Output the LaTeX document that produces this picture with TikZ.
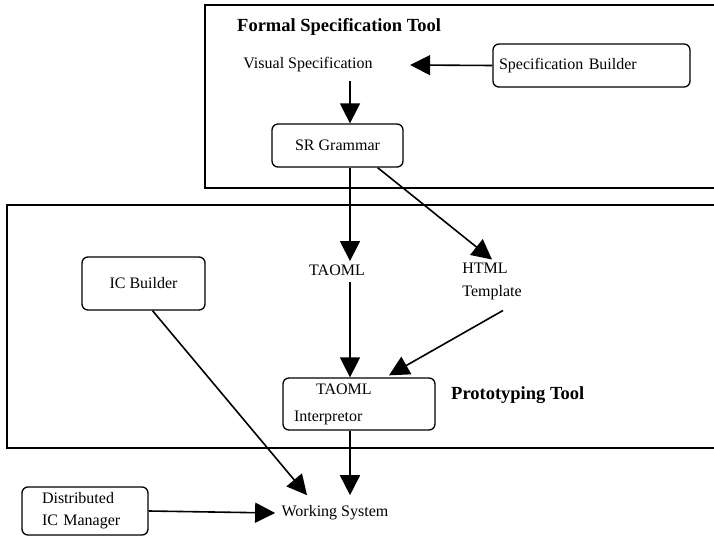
\documentclass[tikz,border=0pt]{standalone}
\usepackage{fontspec}
\setmainfont{Liberation Serif}
\usetikzlibrary{arrows.meta,calc}
\begin{document}
\begin{tikzpicture}[x=1pt,y=-1pt,
  every node/.style={font=\fontsize{16}{19}\selectfont},
  box/.style={draw, rounded corners=6pt, line width=1.3pt, inner xsep=6pt},
  title/.style={font=\fontsize{18.5}{22}\bfseries\selectfont, anchor=west, inner sep=0pt},
  frame/.style={line width=1.6pt},
  flow/.style={line width=1.6pt, -{Triangle[length=20pt,width=20pt]}},
]
\useasboundingbox (0,0) rectangle (714,537);

% tool frames (open towards the right edge)
\draw[frame] (714,5) -- (205,5) -- (205,188) -- (714,188);
\draw[frame] (714,205) -- (7,205) -- (7,448) -- (714,448);

% formal specification tool
\node[title] (fst) at (237,27) {Formal Specification Tool};
\node (vis) at (308,65) {Visual Specification};
\node[box, minimum width=197pt, minimum height=43pt, text width=185pt, align=left] (sb) at (591.5,65.5) {Specification Builder};
\node[box, minimum width=131pt, minimum height=43pt] (sr) at (337.5,145.5) {SR Grammar};

% prototyping tool
\node (taoml) at (337,270) {TAOML};
\node[align=left] (html) at (492,281.5) {HTML\\[4pt]Template};
\node[box, minimum width=123pt, minimum height=53pt] (icb) at (143.5,283.5) {IC Builder};
\node[box, minimum width=152pt, minimum height=52pt, text width=140pt, align=left] (interp) at (359,404) {\hspace*{27pt}TAOML\\[8pt]\hspace*{5pt}Interpretor};
\node[title] (prt) at (451,395) {Prototyping Tool};

% outside the tools
\node (ws) at (335,513) {Working System};
\node[box, minimum width=126pt, minimum height=48pt, text width=86pt, inner xsep=20pt, align=left] (dim) at (85,511) {Distributed\\[3pt]IC Manager};

\coordinate (axis) at (350,0);

% connectors
\draw[flow] (sb.west) -- ($(vis.east)+(34,0)$);
\draw[flow, shorten <=5pt] (vis.south -| axis) -- (sr.north -| axis);
\draw[flow] (sr.south -| axis) -- (taoml.north -| axis);
\draw[flow] ($(sr.south east)+(-26,0)$) -- (html.north);
\draw[flow, shorten <=3pt] (taoml.south -| axis) -- (interp.north -| axis);
\draw[flow] ($(html.south)+(11,7)$) -- ($(interp.north)+(30,-2)$);
\draw[flow] ($(icb.south)+(9,0)$) -- ($(ws.north)+(-28,-7)$);
\draw[flow] (interp.south -| axis) -- ($(ws.north -| axis)+(0,-7)$);
\draw[flow] (dim.east) -- ($(ws.west)+(-3,0)$);
\end{tikzpicture}
\end{document}
